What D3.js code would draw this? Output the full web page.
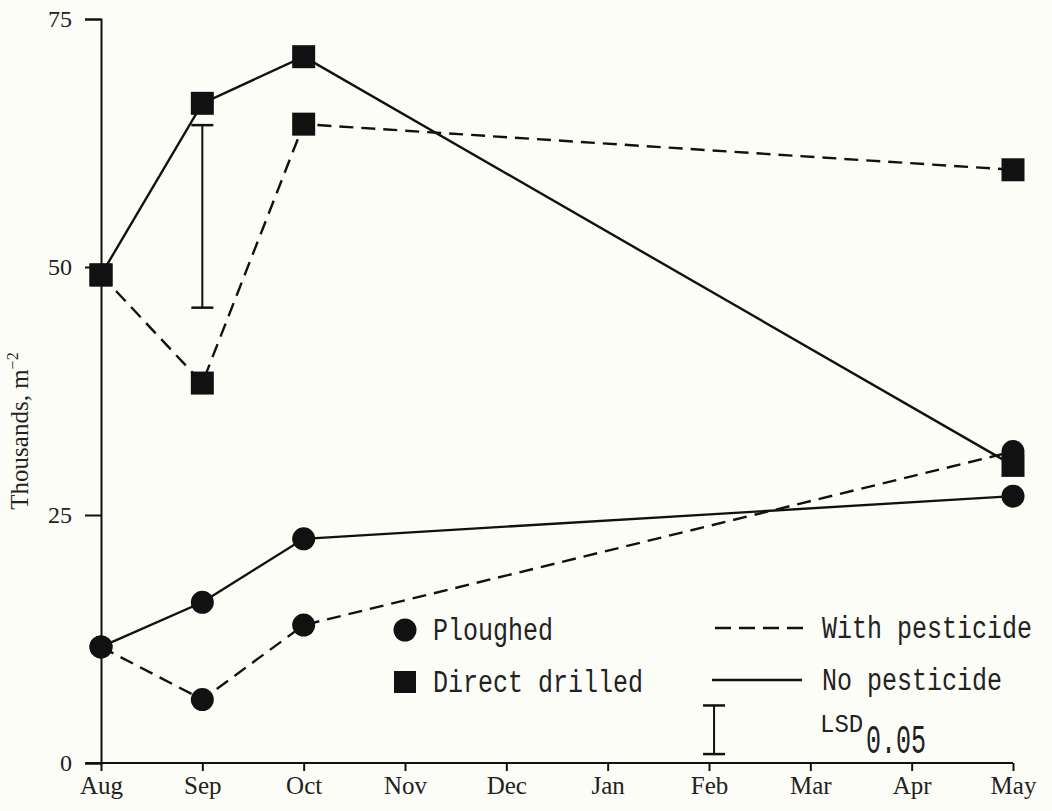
<!DOCTYPE html>
<html>
<head>
<meta charset="utf-8">
<script src="https://cdn.jsdelivr.net/npm/d3@7"></script>
<style>
  body { margin: 0; background: #fdfdf8; }
  svg { display: block; }
</style>
</head>
<body>
<svg id="chart"></svg>
<script>
// DATA
const months = ["Aug", "Sep", "Oct", "Nov", "Dec", "Jan", "Feb", "Mar", "Apr", "May"];
const yTicks = [0, 25, 50, 75];

const sampleMonths = ["Aug", "Sep", "Oct", "May"];
const directNoPest = [49.2, 66.5, 71.2, 30.0];
const directWithPest = [49.2, 38.3, 64.4, 59.8];
const ploughedNoPest = [11.7, 16.2, 22.6, 26.9];
const ploughedWithPest = [11.7, 6.4, 13.9, 31.4];

// LSD bars: [month position (index), low, high]
const lsdSep = [1, 45.9, 64.3];
const lsdLegend = [6.05, 0.9, 5.8];

// DIMENSIONS
const dims = { width: 1052, height: 811 };
const margin = { left: 101, right: 39, top: 19, bottom: 48 };

const svg = d3.select("#chart")
  .attr("width", dims.width)
  .attr("height", dims.height);

const x = d3.scaleLinear()
  .domain([0, months.length - 1])
  .range([margin.left, dims.width - margin.right]);

const y = d3.scaleLinear()
  .domain([0, 75])
  .range([dims.height - margin.bottom, margin.top]);

const ink = "#111";
const serif = "'Liberation Serif', 'DejaVu Serif', serif";

// AXES
const xAxis = svg.append("g")
  .attr("transform", `translate(0,${y(0)})`)
  .call(d3.axisBottom(x).tickValues(d3.range(months.length))
    .tickFormat((i) => months[i]).tickSize(8).tickPadding(5));

const yAxis = svg.append("g")
  .attr("transform", `translate(${x(0)},0)`)
  .call(d3.axisLeft(y).tickValues(yTicks).tickSize(16).tickPadding(13));

[xAxis, yAxis].forEach((g) => {
  g.select(".domain").attr("stroke", ink).attr("stroke-width", 2);
  g.selectAll(".tick line").attr("stroke", ink).attr("stroke-width", 2);
  g.selectAll(".tick text")
    .attr("fill", "#222")
    .style("font-family", serif);
});
xAxis.selectAll(".tick text").style("font-size", "25px");
yAxis.selectAll(".tick text").style("font-size", "24px");
// x axis line starts a bit left of the y axis
xAxis.select(".domain").attr("d", `M${x(0) - 15},0H${x(months.length - 1)}`);

// Y LABEL
const yLabel = svg.append("text")
  .attr("transform", `translate(28,${(y(0) + y(75)) / 2 + 40}) rotate(-90)`)
  .attr("text-anchor", "middle")
  .attr("fill", "#222")
  .style("font-family", serif)
  .style("font-size", "25px");
yLabel.append("tspan").text("Thousands, m");
yLabel.append("tspan").attr("dy", -10).style("font-size", "16px").text("\u22122");

// SERIES
const series = [
  { values: directNoPest, marker: "square", dash: null },
  { values: directWithPest, marker: "square", dash: "14,8" },
  { values: ploughedNoPest, marker: "circle", dash: null },
  { values: ploughedWithPest, marker: "circle", dash: "14,8" },
];

const line = d3.line()
  .x((d) => x(months.indexOf(d.month)))
  .y((d) => y(d.value));

series.forEach((s) => {
  const pts = s.values.map((v, i) => ({ month: sampleMonths[i], value: v }));
  svg.append("path")
    .datum(pts)
    .attr("d", line)
    .attr("fill", "none")
    .attr("stroke", ink)
    .attr("stroke-width", 2.4)
    .attr("stroke-dasharray", s.dash);
  s.pts = pts;
});

// LSD bars
function lsdBar(b) {
  const g = svg.append("g").attr("stroke", ink).attr("stroke-width", 2);
  const cx = x(b[0]);
  g.append("line").attr("x1", cx).attr("x2", cx).attr("y1", y(b[1])).attr("y2", y(b[2]));
  [b[1], b[2]].forEach((v) => {
    g.append("line").attr("x1", cx - 11).attr("x2", cx + 11).attr("y1", y(v)).attr("y2", y(v))
      .attr("stroke-width", 2.5);
  });
}
lsdBar(lsdSep);
lsdBar(lsdLegend);

// MARKERS
series.forEach((s) => {
  s.pts.forEach((d) => {
    const cx = x(months.indexOf(d.month));
    const cy = y(d.value);
    if (s.marker === "square") {
      svg.append("rect")
        .attr("x", cx - 11.5).attr("y", cy - 11.5)
        .attr("width", 23).attr("height", 23)
        .attr("fill", ink);
    } else {
      svg.append("circle")
        .attr("cx", cx).attr("cy", cy).attr("r", 11.5)
        .attr("fill", ink);
    }
  });
});

// LEGEND
const mono = "'Liberation Mono', 'DejaVu Sans Mono', monospace";
function legendText(tx, ty, txt, size, sy) {
  return svg.append("text")
    .attr("transform", `translate(${tx},${ty}) scale(1,${sy})`)
    .attr("fill", "#222")
    .style("font-family", mono)
    .style("font-size", size + "px")
    .text(txt);
}
svg.append("circle").attr("cx", 405).attr("cy", 630).attr("r", 11.5).attr("fill", ink);
legendText(433, 640, "Ploughed", 25, 1.25);
svg.append("rect").attr("x", 394).attr("y", 671).attr("width", 22).attr("height", 22).attr("fill", ink);
legendText(433, 692, "Direct drilled", 25, 1.25);

svg.append("line").attr("x1", 715).attr("x2", 805).attr("y1", 628).attr("y2", 628)
  .attr("stroke", ink).attr("stroke-width", 2.5).attr("stroke-dasharray", "16,8");
legendText(822, 638, "With pesticide", 25, 1.25);
svg.append("line").attr("x1", 712).attr("x2", 802).attr("y1", 680).attr("y2", 680)
  .attr("stroke", ink).attr("stroke-width", 2.5);
legendText(822, 690, "No pesticide", 25, 1.25);

legendText(820, 732, "LSD", 24, 1.05);
legendText(866, 753, "0.05", 25, 1.6);
</script>
</body>
</html>
